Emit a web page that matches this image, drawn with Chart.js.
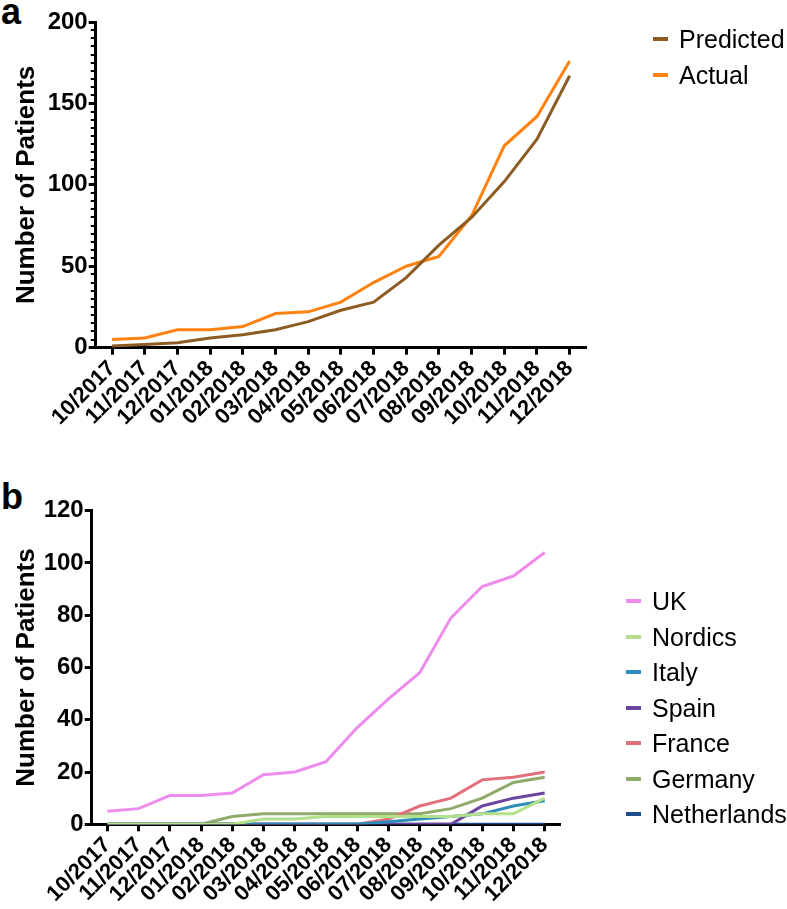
<!DOCTYPE html>
<html>
<head>
<meta charset="utf-8">
<script src="https://cdn.jsdelivr.net/npm/chart.js@4/dist/chart.umd.min.js"></script>
<style>
  html, body { margin: 0; padding: 0; background: #fff; }
  body { width: 787px; height: 909px; position: relative; overflow: hidden; font-family: "Liberation Sans"; }
  .wrap { position: absolute; left: 0; }
  .panel { position: absolute; font-weight: bold; font-size: 36px; line-height: 1; color: #000; }
  .legend { position: absolute; font-size: 25px; color: #000; }
  .legend .item { position: absolute; left: 0; white-space: nowrap; height: 30px; line-height: 30px; }
  .legend .sw { position: absolute; left: 0; top: 13px; width: 15px; height: 4px; }
  .legend .tx { position: absolute; left: 26px; top: 0; }
</style>
</head>
<body>
<div class="panel" style="left:1px; top:-6px;">a</div>
<div class="panel" style="left:1px; top:479px;">b</div>
<div class="wrap" style="top:0; width:787px; height:440px;"><canvas id="chartA" width="787" height="440"></canvas></div>
<div class="wrap" style="top:440px; width:787px; height:469px;"><canvas id="chartB" width="787" height="469"></canvas></div>
<div class="legend" id="legA" style="left:653px; top:24px;"></div>
<div class="legend" id="legB" style="left:626px; top:586px;"></div>
<script>
// ---- Data ----
const months = ["10/2017","11/2017","12/2017","01/2018","02/2018","03/2018","04/2018","05/2018","06/2018","07/2018","08/2018","09/2018","10/2018","11/2018","12/2018"];

const predicted = [1, 2, 3, 6, 8, 11, 16, 23, 28, 43, 63, 80, 102, 128, 167];
const actual    = [5, 6, 11, 11, 13, 21, 22, 28, 40, 50, 56, 81, 124, 142, 176];

const uk          = [5, 6, 11, 11, 12, 19, 20, 24, 37, 48, 58, 79, 91, 95, 104];
const nordics     = [0, 0, 0, 0, 0, 2, 2, 3, 3, 3, 3, 3, 4, 4, 10];
const italy       = [0, 0, 0, 0, 0, 0, 0, 0, 0, 1, 2, 3, 4, 7, 9];
const spain       = [0, 0, 0, 0, 0, 0, 0, 0, 0, 0, 0, 0, 7, 10, 12];
const france      = [0, 0, 0, 0, 0, 0, 0, 0, 0, 2, 7, 10, 17, 18, 20];
const germany     = [0, 0, 0, 0, 3, 4, 4, 4, 4, 4, 4, 6, 10, 16, 18];
const netherlands = [0, 0, 0, 0, 0, 0, 0, 0, 0, 0, 0, 0, 0, 0, 0];

const yTicksA = [0, 50, 100, 150, 200];
const yTicksB = [0, 20, 40, 60, 80, 100, 120];

// ---- Styles ----
const FONT = "Liberation Sans";
const colorsA = { Predicted: "#8c5c22", Actual: "#ff8210" };
const colorsB = {
  UK: "#ee8cee", Nordics: "#b3e08a", Italy: "#2d8dba", Spain: "#6a44a0",
  France: "#e2707a", Germany: "#8fab6a", Netherlands: "#1f4d8d"
};

function lineDs(label, data, color) {
  return { label, data, borderColor: color, backgroundColor: color, borderWidth: 3,
           pointRadius: 0, pointHoverRadius: 0, tension: 0, fill: false };
}

// minor tick plugin for panel a y-axis
const minorTicks = {
  id: "minorTicks",
  afterDraw(chart, args, opts) {
    if (!opts || !opts.step) return;
    const y = chart.scales.y;
    const ctx = chart.ctx;
    ctx.save();
    ctx.strokeStyle = "#000";
    ctx.lineWidth = 2;
    for (let v = y.min; v <= y.max + 1e-9; v += opts.step) {
      if (Math.abs(v % opts.major) < 1e-9) continue;
      const py = Math.round(y.getPixelForValue(v));
      ctx.beginPath();
      ctx.moveTo(y.right - 5, py);
      ctx.lineTo(y.right, py);
      ctx.stroke();
    }
    ctx.restore();
  }
};

function makeOptions(cfg) {
  return {
    responsive: false,
    animation: false,
    events: [],
    layout: { padding: { left: 0, top: cfg.top, right: cfg.right, bottom: 0 } },
    plugins: {
      legend: { display: false },
      tooltip: { enabled: false },
      minorTicks: cfg.minor || {}
    },
    scales: {
      x: {
        type: "category",
        offset: true,
        afterFit(s) { s.height = cfg.xh; },
        border: { display: true, color: "#000", width: 3 },
        grid: { display: true, drawOnChartArea: false, drawTicks: true, tickLength: 7, tickWidth: 3, tickColor: "#000", offset: false },
        ticks: { color: "#000", font: { family: FONT, size: 22, weight: "bold" }, maxRotation: 45, minRotation: 45, autoSkip: false, padding: 1 }
      },
      y: {
        min: cfg.ymin, max: cfg.ymax,
        afterFit(s) { s.width = cfg.yw; },
        afterBuildTicks(s) { s.ticks = cfg.yticks.map(v => ({ value: v })); },
        border: { display: true, color: "#000", width: 3 },
        grid: { display: true, drawOnChartArea: false, drawTicks: true, tickLength: 7, tickWidth: 3, tickColor: "#000" },
        ticks: { color: "#000", font: { family: FONT, size: 24, weight: "bold" }, padding: 1 },
        title: { display: true, text: "Number of Patients", color: "#000", font: { family: FONT, size: 26, weight: "bold" }, padding: { top: 11, bottom: 0 } }
      }
    }
  };
}

new Chart(document.getElementById("chartA"), {
  type: "line",
  data: {
    labels: months,
    datasets: [
      lineDs("Predicted", predicted, colorsA.Predicted),
      lineDs("Actual", actual, colorsA.Actual)
    ]
  },
  options: makeOptions({ top: 22, right: 201, xh: 92.3, yw: 95.7, ymin: 0, ymax: 200, yticks: yTicksA, minor: { step: 5, major: 50 } }),
  plugins: [minorTicks]
});

const seriesB = [
  ["UK", uk], ["Nordics", nordics], ["Italy", italy], ["Spain", spain],
  ["France", france], ["Germany", germany], ["Netherlands", netherlands]
];

new Chart(document.getElementById("chartB"), {
  type: "line",
  data: {
    labels: months,
    datasets: seriesB.map(([n, d]) => lineDs(n, d, colorsB[n]))
  },
  options: makeOptions({ top: 70.7, right: 226.7, xh: 84.7, yw: 91.7, ymin: 0, ymax: 120, yticks: yTicksB }),
  plugins: [minorTicks]
});

// ---- HTML legends ----
function buildLegend(el, names, colors, spacing) {
  names.forEach((n, i) => {
    const it = document.createElement("div");
    it.className = "item";
    it.style.top = (i * spacing) + "px";
    const sw = document.createElement("span");
    sw.className = "sw"; sw.style.background = colors[n];
    const tx = document.createElement("span");
    tx.className = "tx"; tx.textContent = n;
    it.appendChild(sw); it.appendChild(tx);
    el.appendChild(it);
  });
}
buildLegend(document.getElementById("legA"), ["Predicted", "Actual"], colorsA, 36);
buildLegend(document.getElementById("legB"), seriesB.map(s => s[0]), colorsB, 35.5);
</script>
</body>
</html>
